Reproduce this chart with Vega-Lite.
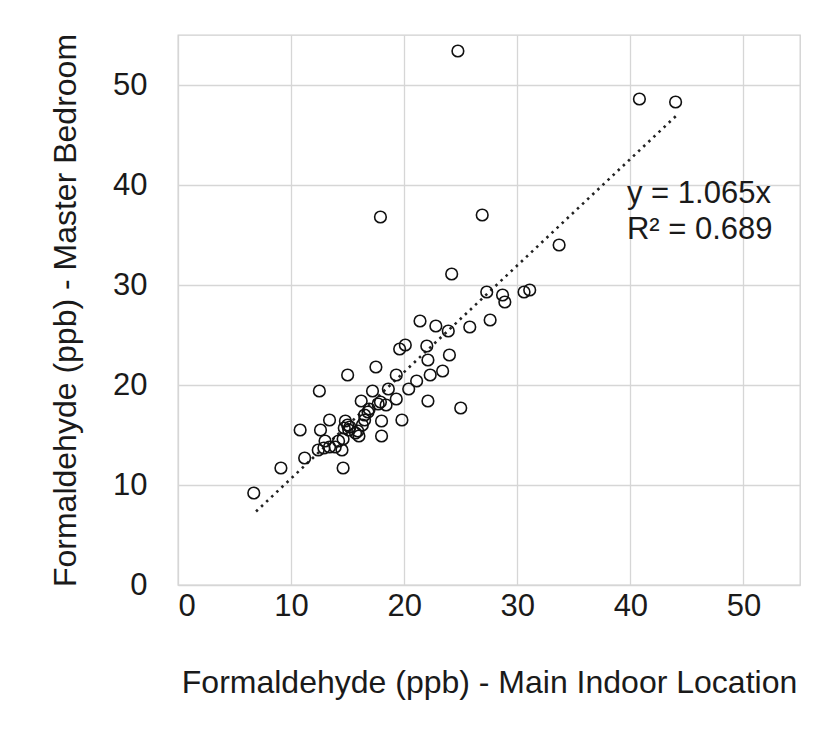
{
  "$schema": "https://vega.github.io/schema/vega-lite/v6.json",
  "width": 622,
  "height": 550,
  "autosize": {"type": "none"},
  "padding": {"left": 178, "top": 35, "right": 35, "bottom": 147},
  "background": "white",
  "config": {
    "view": {"stroke": "#cfcfcf", "strokeWidth": 1.3},
    "font": "Liberation Sans",
    "axis": {
      "grid": true, "gridColor": "#d6d6d6", "gridWidth": 1.3,
      "domain": false, "ticks": false,
      "labelFont": "Liberation Sans", "labelFontSize": 31, "labelColor": "#1a1a1a",
      "titleFont": "Liberation Sans", "titleFontSize": 32, "titleFontWeight": "normal", "titleColor": "#1a1a1a"
    }
  },
  "datasets": {
    "pts": [
      {"main": 6.7, "bed": 9.2}, {"main": 9.1, "bed": 11.7}, {"main": 11.2, "bed": 12.7},
      {"main": 10.8, "bed": 15.5}, {"main": 12.5, "bed": 19.4}, {"main": 15.0, "bed": 21.0},
      {"main": 17.5, "bed": 21.8}, {"main": 14.6, "bed": 11.7}, {"main": 12.6, "bed": 15.5},
      {"main": 13.4, "bed": 16.5}, {"main": 12.4, "bed": 13.5}, {"main": 12.9, "bed": 13.7},
      {"main": 13.4, "bed": 13.8}, {"main": 13.9, "bed": 13.8}, {"main": 14.2, "bed": 14.4},
      {"main": 14.5, "bed": 13.5}, {"main": 13.0, "bed": 14.4}, {"main": 14.8, "bed": 16.4},
      {"main": 15.0, "bed": 16.0}, {"main": 14.7, "bed": 15.7}, {"main": 15.1, "bed": 15.5},
      {"main": 15.2, "bed": 15.8}, {"main": 15.9, "bed": 15.4}, {"main": 16.0, "bed": 14.9},
      {"main": 16.2, "bed": 18.4}, {"main": 16.5, "bed": 16.5}, {"main": 16.5, "bed": 17.0},
      {"main": 16.8, "bed": 17.3}, {"main": 16.9, "bed": 17.6}, {"main": 17.2, "bed": 19.4},
      {"main": 17.7, "bed": 18.1}, {"main": 17.9, "bed": 18.3}, {"main": 18.4, "bed": 18.0},
      {"main": 18.6, "bed": 19.6}, {"main": 18.0, "bed": 16.4}, {"main": 18.0, "bed": 14.9},
      {"main": 19.8, "bed": 16.5}, {"main": 19.3, "bed": 18.6}, {"main": 19.3, "bed": 21.0},
      {"main": 20.4, "bed": 19.6}, {"main": 21.1, "bed": 20.4}, {"main": 22.3, "bed": 21.0},
      {"main": 22.1, "bed": 18.4}, {"main": 23.4, "bed": 21.4}, {"main": 24.0, "bed": 23.0},
      {"main": 22.1, "bed": 22.5}, {"main": 22.0, "bed": 23.9}, {"main": 19.6, "bed": 23.6},
      {"main": 20.1, "bed": 24.0}, {"main": 25.0, "bed": 17.7}, {"main": 21.4, "bed": 26.4},
      {"main": 22.8, "bed": 25.9}, {"main": 23.9, "bed": 25.4}, {"main": 25.8, "bed": 25.8},
      {"main": 27.6, "bed": 26.5}, {"main": 27.3, "bed": 29.3}, {"main": 28.7, "bed": 29.0},
      {"main": 28.9, "bed": 28.3}, {"main": 30.6, "bed": 29.3}, {"main": 31.1, "bed": 29.5},
      {"main": 24.2, "bed": 31.1}, {"main": 33.7, "bed": 34.0}, {"main": 17.9, "bed": 36.8},
      {"main": 26.9, "bed": 37.0}, {"main": 24.75, "bed": 53.4}, {"main": 40.8, "bed": 48.6},
      {"main": 44.0, "bed": 48.3}, {"main": 16.3, "bed": 16.0}, {"main": 14.6, "bed": 14.6},
      {"main": 15.7, "bed": 15.2}
    ],
    "trend": [
      {"main": 6.9, "bed": 7.35},
      {"main": 44.1, "bed": 46.97}
    ],
    "labels": [
      {"main": 39.7, "bed": 39.1, "txt": "y = 1.065x"},
      {"main": 39.7, "bed": 35.5, "txt": "R² = 0.689"}
    ]
  },
  "layer": [
    {
      "data": {"name": "trend"},
      "mark": {"type": "line", "color": "#222", "strokeWidth": 2.6, "strokeDash": [2.5, 4.5]},
      "encoding": {
        "x": {"field": "main", "type": "quantitative", "scale": {"domain": [0, 55], "nice": false},
          "axis": {"values": [0, 10, 20, 30, 40, 50], "labelPadding": 6, "titlePadding": 46,
            "title": "Formaldehyde (ppb) - Main Indoor Location"}},
        "y": {"field": "bed", "type": "quantitative", "scale": {"domain": [0, 55], "nice": false},
          "axis": {"values": [0, 10, 20, 30, 40, 50], "labelPadding": 31, "titlePadding": 30,
            "title": "Formaldehyde (ppb) - Master Bedroom"}}
      }
    },
    {
      "data": {"name": "pts"},
      "mark": {"type": "point", "shape": "circle", "filled": false, "color": "#111", "size": 135, "strokeWidth": 1.6, "opacity": 1},
      "encoding": {
        "x": {"field": "main", "type": "quantitative"},
        "y": {"field": "bed", "type": "quantitative"}
      }
    },
    {
      "data": {"name": "labels"},
      "mark": {"type": "text", "align": "left", "baseline": "middle", "fontSize": 31, "color": "#1a1a1a", "font": "Liberation Sans"},
      "encoding": {
        "x": {"field": "main", "type": "quantitative"},
        "y": {"field": "bed", "type": "quantitative"},
        "text": {"field": "txt"}
      }
    }
  ]
}
